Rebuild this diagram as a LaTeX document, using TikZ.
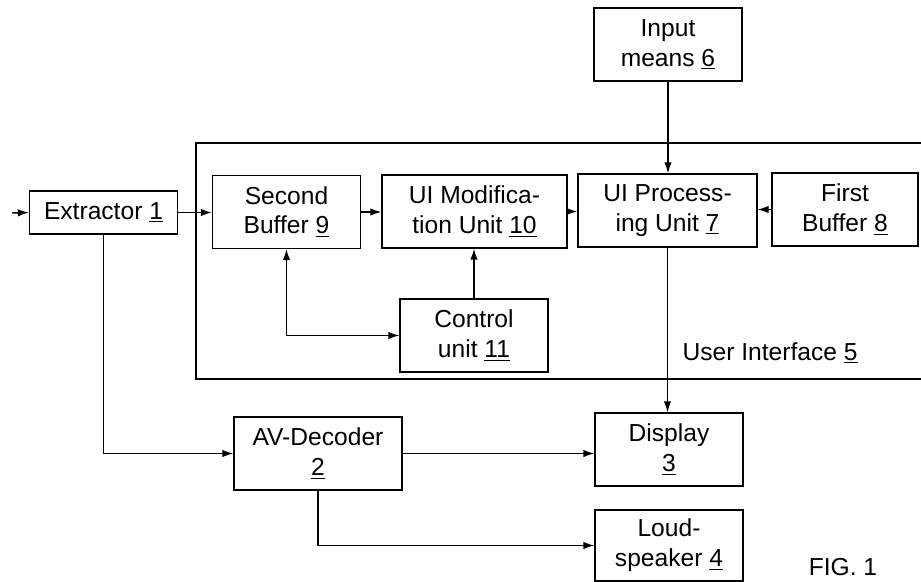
\documentclass[tikz,border=0pt]{standalone}
\usepackage{fontspec}
\setmainfont{Liberation Sans}
\usetikzlibrary{arrows.meta}

\tikzset{
  blk/.style={shape=rectangle, draw=black, line width=0.8pt, align=center,
    inner sep=0pt, minimum width=2.96cm, minimum height=1.46cm,
    font=\fontsize{14}{17}\selectfont},
  >={Latex[length=2.2mm,width=1.5mm]}
}

\begin{document}
\begin{tikzpicture}[x=0.02cm, y=-0.02cm, line width=0.8pt]
			\useasboundingbox (0,0) rectangle (921,582);
			% user interface frame (right side runs off the sheet)
			\draw (921,143) -- (196,143) -- (196,379) -- (921,379);
			\node[font=\fontsize{14}{17}\selectfont, anchor=west] (uilbl) at (676,353) {User Interface \underline{5}};
			
			\node[blk] (inp) at (668,44.5) {Input\\means \underline{6}};
			\node[blk, minimum height=0.86cm] (ext) at (103.5,212.5) {Extractor \underline{1}};
			\node[blk] (sbuf) at (286.5,212) {Second\\Buffer \underline{9}};
			\node[blk, minimum width=3.7cm] (uim) at (474.5,211.5) {UI Modifica-\\tion Unit \underline{10}};
			\node[blk, minimum width=3.58cm] (uip) at (667.5,210.5) {UI Process-\\ing Unit \underline{7}};
			\node[blk, minimum width=2.92cm] (fbuf) at (845,209.5) {First\\Buffer \underline{8}};
			\node[blk] (ctrl) at (474,335.5) {Control\\unit \underline{11}};
			\node[blk, minimum width=3.36cm] (avd) at (318,453.5) {AV-Decoder\\\underline{2}};
			\node[blk] (disp) at (669,449.5) {Display\\\underline{3}};
			\node[blk, minimum height=1.42cm] (spk) at (669,545.5) {Loud-\\speaker \underline{4}};
			\node[font=\fontsize{14}{17}\selectfont] (fig) at (843,567) {FIG. 1};
			
			\coordinate (src) at (12,213);
			\path [->] (src) edge (ext.west);
			\path [->] (ext.east) edge (ext.east -| sbuf.west);
			\path [->] (sbuf.east) edge (sbuf.east -| uim.west);
			\path [->] (uim.east) edge (uim.east -| uip.west);
			\path [->] (fbuf.west) edge (fbuf.west -| uip.east);
			\path [->] (inp.south) edge (inp.south |- uip.north);
			\path [->] (uip.south) edge (uip.south |- disp.north);
			\path [->] (ctrl.north) edge (ctrl.north |- uim.south);
			\draw [<->] (sbuf.south) |- (ctrl.west);
			\draw [->] (ext.south) |- (avd.west);
			\path [->] (avd.east) edge (avd.east -| disp.west);
			\draw [->] (avd.south) |- (spk.west);
		\end{tikzpicture}
\end{document}
